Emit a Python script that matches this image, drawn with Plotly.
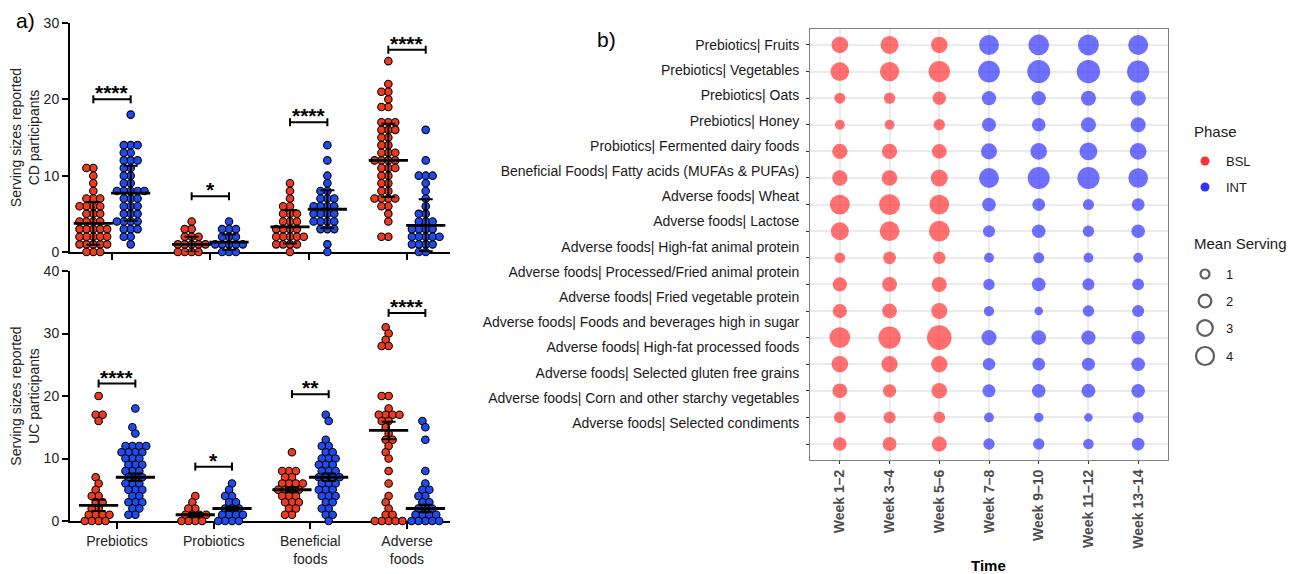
import numpy as np
import plotly.graph_objects as go

# ---------------- DATA ----------------
CATEGORIES = ["Prebiotics", "Probiotics", "Beneficial<br>foods", "Adverse<br>foods"]
PHASES = ["BSL", "INT"]

# Panel a: individual serving sizes reported (CD participants)
CD_PREBIOTICS_BSL = [11, 11, 10, 9, 8, 7, 7, 7, 6, 6, 6, 6, 5, 5, 5, 4, 4, 4, 4, 3, 3, 3, 3, 3,
                     2, 2, 2, 2, 2, 1, 1, 1, 1, 1, 0, 0, 0]
CD_PREBIOTICS_INT = [18, 14, 14, 14, 13, 13, 12, 12, 12, 11, 11, 10, 10, 9, 9, 8, 8, 8, 8, 8,
                     7, 7, 7, 6, 6, 6, 5, 5, 5, 4, 4, 4, 4, 3, 3, 3, 2, 2, 1]
CD_PROBIOTICS_BSL = [4, 3, 3, 2, 2, 2, 1, 1, 1, 1, 1, 0, 0, 0, 0]
CD_PROBIOTICS_INT = [4, 3, 3, 3, 2, 2, 2, 1, 1, 1, 1, 1, 0, 0, 0]
CD_BENEFICIAL_BSL = [9, 8, 7, 6, 6, 5, 5, 5, 4, 4, 4, 3, 3, 3, 3, 2, 2, 2, 2, 2, 1, 1, 1, 1, 0]
CD_BENEFICIAL_INT = [14, 12, 10, 9, 8, 8, 7, 7, 7, 6, 6, 6, 6, 5, 5, 5, 5, 4, 4, 4, 4, 3, 3, 3, 1, 0]
CD_ADVERSE_BSL = [25, 22, 21, 21, 20, 19, 19, 17, 17, 17, 16, 16, 16, 15, 15, 14, 14, 13, 13, 13,
                  12, 12, 12, 12, 11, 11, 11, 10, 10, 9, 9, 8, 8, 7, 7, 7, 7, 6, 6, 5, 4, 2, 2]
CD_ADVERSE_INT = [16, 12, 10, 10, 10, 9, 8, 7, 6, 5, 5, 4, 4, 4, 3, 3, 3, 3, 2, 2, 2, 2, 2,
                  1, 1, 1, 1, 0, 0]

# Panel a: individual serving sizes reported (UC participants)
UC_PREBIOTICS_BSL = [20, 17, 17, 16, 7, 6, 5, 4, 4, 3, 3, 2, 2, 1, 1, 1, 1, 0, 0, 0, 0]
UC_PREBIOTICS_INT = [18, 15, 14, 12, 12, 12, 12, 11, 11, 11, 11, 10, 10, 10, 9, 9, 9, 8, 8, 8,
                     7, 7, 7, 6, 6, 6, 5, 5, 5, 4, 4, 3, 3, 3, 2, 2, 1, 1]
UC_PROBIOTICS_BSL = [4, 3, 2, 2, 1, 1, 1, 1, 0, 0, 0, 0]
UC_PROBIOTICS_INT = [6, 5, 4, 4, 3, 3, 2, 2, 2, 1, 1, 1, 1, 0, 0, 0, 0]
UC_BENEFICIAL_BSL = [11, 8, 8, 8, 7, 7, 6, 6, 6, 6, 5, 5, 5, 5, 4, 4, 4, 3, 3, 3, 2, 2, 1, 1]
UC_BENEFICIAL_INT = [17, 16, 13, 12, 12, 11, 11, 10, 10, 10, 9, 9, 9, 8, 8, 8, 7, 7, 7, 7,
                     6, 6, 6, 5, 5, 5, 4, 4, 4, 3, 3, 2, 2, 1, 1, 0]
UC_ADVERSE_BSL = [31, 30, 29, 28, 28, 20, 20, 18, 17, 17, 17, 17, 16, 16, 15, 14, 13, 13, 12,
                  11, 10, 8, 6, 4, 3, 2, 1, 1, 0, 0, 0, 0, 0]
UC_ADVERSE_INT = [16, 15, 13, 8, 6, 5, 5, 4, 4, 3, 3, 2, 2, 2, 1, 1, 1, 1, 0, 0, 0, 0, 0]

# Means and SDs (order: Pre BSL, Pre INT, Pro BSL, Pro INT, Ben BSL, Ben INT, Adv BSL, Adv INT)
CD_MEANS = [3.75, 7.7, 1.0, 1.3, 3.3, 5.6, 12.0, 3.5]
CD_SDS = [2.8, 3.6, 1.0, 1.0, 2.2, 2.5, 4.8, 3.4]
UC_MEANS = [2.5, 7.0, 1.0, 2.0, 5.0, 7.0, 14.5, 2.0]
UC_SDS = [0.9, 0.6, 0.3, 0.3, 0.4, 0.6, 1.4, 0.6]

CD_SIG_TEXT = ["****", "*", "****", "****"]
CD_SIG_Y = [20.0, 7.3, 17.0, 26.5]
UC_SIG_TEXT = ["****", "*", "**", "****"]
UC_SIG_Y = [22.0, 8.7, 20.3, 33.3]

# Panel b: mean serving by food group and time
FOOD_LABELS = [
    "Prebiotics| Fruits",
    "Prebiotics| Vegetables",
    "Prebiotics| Oats",
    "Prebiotics| Honey",
    "Probiotics| Fermented dairy foods",
    "Beneficial Foods| Fatty acids (MUFAs & PUFAs)",
    "Adverse foods| Wheat",
    "Adverse foods| Lactose",
    "Adverse foods| High-fat animal protein",
    "Adverse foods| Processed/Fried animal protein",
    "Adverse foods| Fried vegetable protein",
    "Adverse foods| Foods and beverages high in sugar",
    "Adverse foods| High-fat processed foods",
    "Adverse foods| Selected gluten free grains",
    "Adverse foods| Corn and other starchy vegetables",
    "Adverse foods| Selected condiments",
]
WEEKS = ["Week 1–2", "Week 3–4", "Week 5–6", "Week 7–8", "Week 9–10", "Week 11–12", "Week 13–14"]
WEEK_PHASE = ["BSL", "BSL", "BSL", "INT", "INT", "INT", "INT"]
MEAN_SERVING = [
    [3.4, 4.0, 3.4, 4.9, 5.3, 5.4, 4.9],
    [4.3, 4.6, 5.6, 5.8, 6.5, 6.7, 6.1],
    [1.5, 1.6, 2.2, 2.5, 2.5, 2.8, 2.9],
    [1.2, 1.2, 1.6, 2.4, 2.3, 2.8, 2.8],
    [2.9, 2.9, 2.7, 3.2, 3.4, 3.9, 3.4],
    [2.9, 3.0, 3.6, 4.9, 6.0, 6.1, 4.8],
    [4.9, 5.4, 4.8, 2.3, 2.0, 1.5, 2.0],
    [4.0, 4.8, 5.3, 1.8, 2.3, 1.6, 2.3],
    [1.4, 2.0, 1.9, 1.2, 1.5, 1.2, 1.2],
    [2.5, 2.7, 2.8, 1.6, 2.3, 1.8, 1.7],
    [2.5, 2.7, 3.2, 1.3, 0.9, 1.6, 1.8],
    [5.3, 6.1, 7.5, 2.8, 2.7, 2.5, 2.3],
    [3.4, 3.3, 3.3, 1.9, 2.0, 2.1, 2.3],
    [2.7, 2.2, 3.0, 2.1, 2.3, 2.4, 2.3],
    [1.7, 1.8, 1.7, 1.2, 1.1, 0.9, 1.5],
    [2.3, 2.4, 2.8, 1.6, 1.6, 1.4, 2.0],
]
SIZE_LEGEND_VALUES = [1, 2, 3, 4]

# ---------------- STYLE / GEOMETRY ----------------
# Page body adds an 8px margin at the top-left; figure fills the rest of the window.
PAGE_OFF = 8
WIN_W, WIN_H = 1295, 574
W, H = WIN_W - PAGE_OFF, WIN_H - PAGE_OFF
FONT = "Liberation Sans, Arial, sans-serif"
RED_A, BLUE_A = "#EE3B1F", "#1F4BEE"
RED_B, BLUE_B = "#FF3333", "#3333FF"
DARK = "#1a1a1a"

# geometry in window pixels
A_LEFT, A_RIGHT = 70, 450
CD_TOP, CD_BOTTOM = 23, 252
UC_TOP, UC_BOTTOM = 271, 521
B_LEFT, B_RIGHT, B_TOP, B_BOTTOM = 810, 1168, 29, 460

CD_XRANGE = [-0.427, 3.437]
UC_XRANGE = [-0.486, 3.445]
CD_YMAX, UC_YMAX = 30, 40
GROUP_OFF = 0.19
DOT_SIZE = 7.5
DOT_SPACING = 6.9
SIZEREF = 2.0 / 81.0


def xdom(l, r):
    return [(l - PAGE_OFF) / W, (r - PAGE_OFF) / W]


def ydom(t, b):
    return [1 - (b - PAGE_OFF) / H, 1 - (t - PAGE_OFF) / H]


def px(x):
    return (x - PAGE_OFF) / W


def py(y):
    return 1 - (y - PAGE_OFF) / H


def swarm(values, ypx_per_unit, d=DOT_SPACING):
    """Beeswarm horizontal offsets in pixels."""
    order = sorted(range(len(values)), key=lambda i: (values[i], i))
    placed = []
    xs = [0.0] * len(values)
    for i in order:
        y = values[i] * ypx_per_unit
        forb = []
        for (qx, qy) in placed:
            dy = abs(qy - y)
            if dy < d:
                dx = np.sqrt(d * d - dy * dy)
                forb.append((qx - dx, qx + dx))
        cands = [0.0] + [a for a, _ in forb] + [b for _, b in forb]
        cands.sort(key=lambda c: (round(abs(c), 6), c))
        x = 0.0
        for c in cands:
            if all(not (a + 1e-6 < c < b - 1e-6) for a, b in forb):
                x = c
                break
        placed.append((x, y))
        xs[i] = x
    return xs


fig = go.Figure()

panels = [
    dict(xa="x", ya="y", groups=[CD_PREBIOTICS_BSL, CD_PREBIOTICS_INT, CD_PROBIOTICS_BSL, CD_PROBIOTICS_INT,
                                 CD_BENEFICIAL_BSL, CD_BENEFICIAL_INT, CD_ADVERSE_BSL, CD_ADVERSE_INT],
         means=CD_MEANS, sds=CD_SDS, sig=CD_SIG_TEXT, sigy=CD_SIG_Y,
         xrange=CD_XRANGE, ymax=CD_YMAX, top=CD_TOP, bottom=CD_BOTTOM),
    dict(xa="x2", ya="y2", groups=[UC_PREBIOTICS_BSL, UC_PREBIOTICS_INT, UC_PROBIOTICS_BSL, UC_PROBIOTICS_INT,
                                   UC_BENEFICIAL_BSL, UC_BENEFICIAL_INT, UC_ADVERSE_BSL, UC_ADVERSE_INT],
         means=UC_MEANS, sds=UC_SDS, sig=UC_SIG_TEXT, sigy=UC_SIG_Y,
         xrange=UC_XRANGE, ymax=UC_YMAX, top=UC_TOP, bottom=UC_BOTTOM),
]

annotations = []
for p in panels:
    xpx_unit = (A_RIGHT - A_LEFT) / (p["xrange"][1] - p["xrange"][0])
    ypx_unit = (p["bottom"] - p["top"]) / p["ymax"]
    for gi, vals in enumerate(p["groups"]):
        cat = gi // 2
        ph = gi % 2
        center = cat + (GROUP_OFF if ph else -GROUP_OFF)
        offs = swarm(vals, ypx_unit)
        xs = [center + o / xpx_unit for o in offs]
        fig.add_trace(go.Scatter(
            x=xs, y=vals, mode="markers", xaxis=p["xa"], yaxis=p["ya"],
            marker=dict(size=DOT_SIZE, color=RED_A if ph == 0 else BLUE_A,
                        line=dict(color="black", width=1.1)),
            cliponaxis=False, showlegend=False, hoverinfo="y"))
    # mean +/- SD
    centers = [c + (GROUP_OFF if ph else -GROUP_OFF) for c in range(4) for ph in (0, 1)]
    fig.add_trace(go.Scatter(
        x=centers, y=p["means"], mode="markers", xaxis=p["xa"], yaxis=p["ya"],
        marker=dict(symbol="line-ew", size=28, color="black", line=dict(color="black", width=2.8)),
        error_y=dict(type="data", array=p["sds"], visible=True, color="black", thickness=2, width=7),
        cliponaxis=False, showlegend=False, hoverinfo="skip"))
    # significance brackets
    t = 4.0 / ypx_unit
    for c in range(4):
        x0, x1 = c - GROUP_OFF, c + GROUP_OFF
        h = p["sigy"][c]
        fig.add_trace(go.Scatter(
            x=[x0, x0, None, x0, x1, None, x1, x1],
            y=[h - t, h + t, None, h, h, None, h - t, h + t],
            mode="lines", line=dict(color="black", width=2), xaxis=p["xa"], yaxis=p["ya"],
            cliponaxis=False, showlegend=False, hoverinfo="skip"))
        annotations.append(dict(
            x=c, y=h, xref=p["xa"], yref=p["ya"], text="<b>" + p["sig"][c] + "</b>",
            showarrow=False, yanchor="bottom", yshift=-7,
            font=dict(family=FONT, size=21, color="black")))

# ---- Panel b bubbles ----
for phase, color in zip(PHASES, [RED_B, BLUE_B]):
    xs, ys, ss = [], [], []
    for r, row in enumerate(MEAN_SERVING):
        for w, v in enumerate(row):
            if WEEK_PHASE[w] == phase:
                xs.append(w)
                ys.append(r)
                ss.append(v)
    fig.add_trace(go.Scatter(
        x=xs, y=ys, mode="markers", xaxis="x3", yaxis="y3",
        marker=dict(size=ss, sizemode="area", sizeref=SIZEREF, color=color, line=dict(width=0)),
        name=phase, showlegend=False))

# invisible trace carrying the food-label axis
fig.add_trace(go.Scatter(x=[0] * len(FOOD_LABELS), y=list(range(len(FOOD_LABELS))), mode="markers",
                         xaxis="x3", yaxis="y4", marker=dict(opacity=0), showlegend=False,
                         hoverinfo="skip"))

# ---- Manual legend for panel b (legend axis in window pixels) ----
LEG_X = 1205
LEG_PHASE_Y = [161, 187]
LEG_SIZE_Y = [274, 301, 328, 356]
fig.add_trace(go.Scatter(x=[LEG_X, LEG_X], y=LEG_PHASE_Y, mode="markers", xaxis="x5", yaxis="y5",
                         marker=dict(size=9, color=[RED_B, BLUE_B]), showlegend=False, hoverinfo="skip"))
fig.add_trace(go.Scatter(x=[LEG_X] * 4, y=LEG_SIZE_Y, mode="markers", xaxis="x5", yaxis="y5",
                         marker=dict(size=SIZE_LEGEND_VALUES, sizemode="area", sizeref=SIZEREF,
                                     symbol="circle-open", color=DARK, line=dict(width=2.2, color=DARK)),
                         showlegend=False, hoverinfo="skip"))
for txt, yy in zip(PHASES, LEG_PHASE_Y):
    annotations.append(dict(x=1224, y=yy, xref="x5", yref="y5", text=txt, showarrow=False,
                            xanchor="left", font=dict(family=FONT, size=13, color=DARK)))
for v, yy in zip(SIZE_LEGEND_VALUES, LEG_SIZE_Y):
    annotations.append(dict(x=1224, y=yy, xref="x5", yref="y5", text=str(v), showarrow=False,
                            xanchor="left", font=dict(family=FONT, size=13, color=DARK)))
annotations.append(dict(x=1192, y=131, xref="x5", yref="y5", text="Phase", showarrow=False,
                        xanchor="left", font=dict(family=FONT, size=15, color=DARK)))
annotations.append(dict(x=1192, y=243, xref="x5", yref="y5", text="Mean Serving", showarrow=False,
                        xanchor="left", font=dict(family=FONT, size=15, color=DARK)))

# panel letters and panel-b x title
annotations.append(dict(x=px(25), y=py(20), xref="paper", yref="paper", text="a)", showarrow=False,
                        xanchor="center", yanchor="middle", font=dict(family=FONT, size=21, color="black")))
annotations.append(dict(x=px(606), y=py(40), xref="paper", yref="paper", text="b)", showarrow=False,
                        xanchor="center", yanchor="middle", font=dict(family=FONT, size=21, color="black")))
annotations.append(dict(x=px((B_LEFT + B_RIGHT) / 2), y=py(565), xref="paper", yref="paper",
                        text="<b>Time</b>", showarrow=False, xanchor="center", yanchor="middle",
                        font=dict(family=FONT, size=15, color="black")))

axis_a_common = dict(showgrid=False, zeroline=False, showline=True, linecolor="black", linewidth=2,
                     ticks="outside", tickwidth=2, tickcolor="black", ticklen=6, layer="below traces",
                     automargin=False, tickfont=dict(family=FONT, size=14, color="#222"))

fig.update_layout(
    width=W, height=H, margin=dict(l=0, r=0, t=0, b=0, autoexpand=False),
    paper_bgcolor="white", plot_bgcolor="rgba(0,0,0,0)", showlegend=False,
    font=dict(family=FONT, color=DARK),
    annotations=annotations,
    xaxis=dict(domain=xdom(A_LEFT, A_RIGHT), range=CD_XRANGE, anchor="y",
               tickvals=[0, 1, 2, 3], ticktext=[""] * 4, **axis_a_common),
    yaxis=dict(domain=ydom(CD_TOP, CD_BOTTOM), range=[0, CD_YMAX], anchor="x",
               tickvals=[0, 10, 20, 30],
               title=dict(text="Serving sizes reported<br>CD participants",
                          font=dict(family=FONT, size=14, color="#222"), standoff=8),
               **axis_a_common),
    xaxis2=dict(domain=xdom(A_LEFT, A_RIGHT), range=UC_XRANGE, anchor="y2",
                tickvals=[0, 1, 2, 3], ticktext=CATEGORIES, **axis_a_common),
    yaxis2=dict(domain=ydom(UC_TOP, UC_BOTTOM), range=[0, UC_YMAX], anchor="x2",
                tickvals=[0, 10, 20, 30, 40],
                title=dict(text="Serving sizes reported<br>UC participants",
                           font=dict(family=FONT, size=14, color="#222"), standoff=8),
                **axis_a_common),
    xaxis3=dict(domain=xdom(B_LEFT, B_RIGHT), range=[-0.6, len(WEEKS) - 0.4], anchor="y3",
                tickvals=list(range(len(WEEKS))), ticktext=WEEKS, tickangle=-90,
                showgrid=True, gridcolor="#EBEBEB", gridwidth=1.5, zeroline=False,
                showline=True, mirror=True, linecolor="#7F7F7F", linewidth=1,
                ticks="outside", ticklen=3, tickcolor="#333", tickwidth=1, automargin=False,
                tickfont=dict(family=FONT, size=14, color="#4D4D4D", weight="bold")),
    yaxis3=dict(domain=ydom(B_TOP, B_BOTTOM), range=[len(FOOD_LABELS) - 0.4, -0.6], anchor="x3",
                tickvals=list(range(len(FOOD_LABELS))), ticktext=[""] * len(FOOD_LABELS),
                showgrid=True, gridcolor="#EBEBEB", gridwidth=1.5, zeroline=False,
                showline=True, mirror=True, linecolor="#7F7F7F", linewidth=1, automargin=False,
                ticks="outside", ticklen=3, tickcolor="#333", tickwidth=1),
    yaxis4=dict(domain=ydom(B_TOP, B_BOTTOM), overlaying="y3", anchor="x3", side="left",
                range=[-0.635 + (B_BOTTOM - B_TOP) / 25.2, -0.635],
                tickvals=list(range(len(FOOD_LABELS))), ticktext=FOOD_LABELS,
                showgrid=False, zeroline=False, showline=False, automargin=False,
                ticks="outside", ticklen=7, tickcolor="rgba(0,0,0,0)",
                tickfont=dict(family=FONT, size=14, color=DARK)),
    xaxis5=dict(domain=xdom(1180, WIN_W), range=[1180, WIN_W], visible=False, anchor="y5"),
    yaxis5=dict(domain=[0, 1], range=[WIN_H, PAGE_OFF], visible=False, anchor="x5"),
)

fig.write_html("out.html")
